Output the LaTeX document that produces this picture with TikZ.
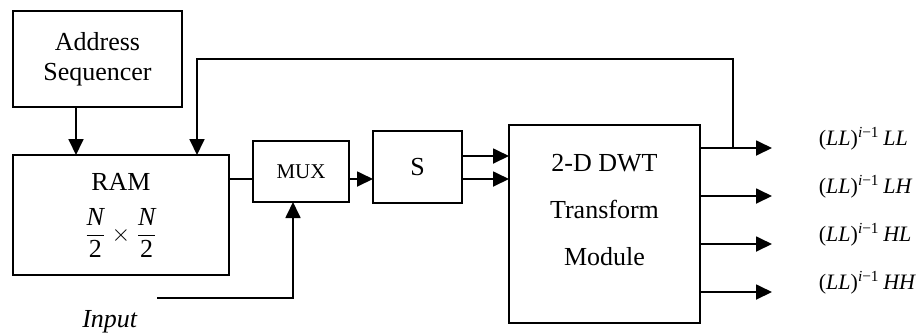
\documentclass[tikz,border=0pt]{standalone}
\usepackage{amsmath}
\usepackage{fontspec}
\setmainfont{Liberation Serif}
\usetikzlibrary{arrows.meta}
\begin{document}
\begin{tikzpicture}[x=0.5pt,y=-0.5pt,
  line width=0.9pt,
  box/.style={draw,line width=0.9pt,inner sep=0pt,outer sep=0pt,align=center,
    font=\fontsize{13}{15}\selectfont},
  txt/.style={inner sep=0pt,outer sep=0pt,font=\fontsize{13}{15}\selectfont},
  outlbl/.style={inner sep=0pt,anchor=base west,font=\fontsize{11}{13}\selectfont},
  arr/.style={-{Triangle[length=8pt,width=7.5pt]}}]
\useasboundingbox (0,0) rectangle (916,334);
% boxes
\node[box,minimum width=84.5pt,minimum height=48pt] (addr) at (97.5,59) {Address\\Sequencer};
\node[box,minimum width=108pt,minimum height=60pt] (ram) at (121,215) {};
\node[txt] (ramt) at (121,182) {RAM};
\node[txt] (ramf) at (121,233) {$\dfrac{\textit{N}}{\text{2}}\times\dfrac{\textit{N}}{\text{2}}$};
\node[box,minimum width=48pt,minimum height=30.5pt,font=\fontsize{10.5}{12}\selectfont] (mux) at (301,171.5) {MUX};
\node[box,minimum width=44.5pt,minimum height=36pt] (s) at (417.5,167) {S};
\node[box,minimum width=95.5pt,minimum height=99pt] (dwt) at (604.5,224) {};
\node[txt,align=center,font=\fontsize{13}{23.5}\selectfont] (dwtt) at (604.5,210) {2-D DWT\\Transform\\Module};
% coordinates
\coordinate (ax) at (76,0);
\coordinate (r) at (0,179);
\coordinate (s1) at (0,156);
\coordinate (o1) at (772,148);
\coordinate (o2) at (772,196);
\coordinate (o3) at (772,244);
\coordinate (o4) at (772,292);
\coordinate (tap) at (733,148);
\coordinate (fb) at (197,59);
\coordinate (in) at (157,298);
\coordinate (inx) at (293,298);
% connectors
\draw[arr] (addr.south -| ax) -- (ram.north -| ax);
\draw[arr] (tap) |- (fb) -- (ram.north -| fb);
\draw (ram.east |- r) -- (mux.west |- r);
\draw[arr] (mux.east |- r) -- (s.west |- r);
\draw[arr] (s.east |- s1) -- (dwt.west |- s1);
\draw[arr] (s.east |- r) -- (dwt.west |- r);
\draw[arr] (in) -- (inx) -- (mux.south -| inx);
\draw[arr] (dwt.east |- o1) -- (o1);
\draw[arr] (dwt.east |- o2) -- (o2);
\draw[arr] (dwt.east |- o3) -- (o3);
\draw[arr] (dwt.east |- o4) -- (o4);
% labels
\node[txt] (inl) at (110,322) {\textit{Input}};
\node[outlbl] (l1) at (818,145.5) {(\textit{LL})\textsuperscript{\textit{i}−1}\,\textit{LL}};
\node[outlbl] (l2) at (818,193.5) {(\textit{LL})\textsuperscript{\textit{i}−1}\,\textit{LH}};
\node[outlbl] (l3) at (818,241.5) {(\textit{LL})\textsuperscript{\textit{i}−1}\,\textit{HL}};
\node[outlbl] (l4) at (818,289.5) {(\textit{LL})\textsuperscript{\textit{i}−1}\,\textit{HH}};
\end{tikzpicture}
\end{document}
